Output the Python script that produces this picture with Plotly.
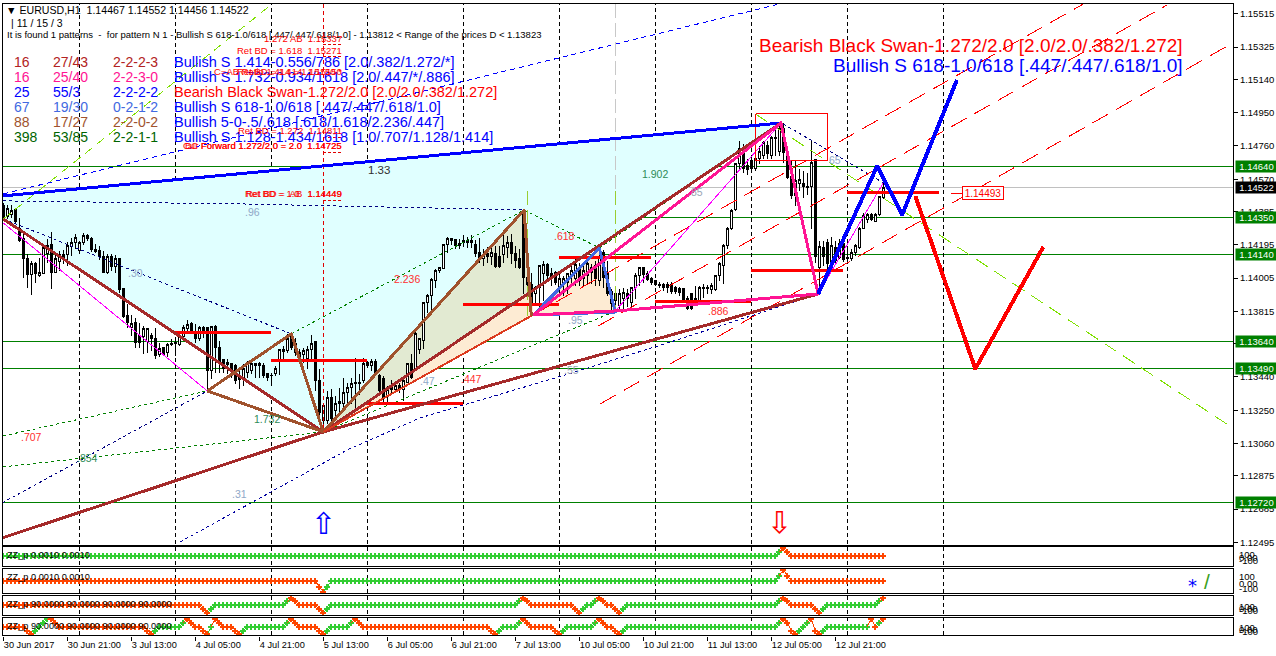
import plotly.graph_objects as go

# ---------- candles: prices in points (1 point = 0.00001) ----------
opens = [114417,114354,114371,114394,114291,114229,114114,114023,114091,114017,
114029,114143,114194,114034,114097,114137,114137,114183,114206,114160,
114206,114246,114229,114171,114160,114131,114034,114126,114069,114114,
113943,113789,113720,113749,113674,113669,113640,113674,113657,113571,
113606,113577,113623,113634,113623,113669,113714,113743,113691,113657,
113720,113720,113474,113731,113606,113537,113509,113514,113503,113446,
113434,113463,113474,113503,113503,113503,113457,113451,113457,113537,
113594,113589,113669,113629,113531,113571,113543,113594,113640,113417,
113189,113189,113320,113246,113286,113291,113349,113377,113406,113400,
113417,113520,113503,113526,113446,113429,113331,113366,113371,113389,
113371,113406,113514,113486,113594,113646,113863,113903,113989,114051,
114057,114194,114229,114223,114189,114217,114217,114217,114194,114149,
114114,114143,114126,114143,114131,114137,114177,114211,114143,114114,
114371,114006,113971,113914,113949,114029,114080,114029,114034,113943,
113977,113977,114017,114000,114063,114000,114017,114063,114074,113989,
114149,114034,113931,113874,113846,113886,113914,113863,113949,114017,
114063,114029,114000,113989,113971,113971,113971,113971,113949,113943,
113943,113886,113914,113863,113874,113943,113949,113937,113937,114017,
114074,114189,114291,114394,114657,114743,114646,114674,114629,114686,
114703,114760,114703,114811,114731,114857,114720,114583,114474,114543,
114543,114531,114531,114680,114063,114177,114206,114091,114177,114120,
114200,114120,114114,114149,114177,114291,114337,114366,114331,114371,114467]
highs = [114434,114423,114423,114400,114349,114274,114143,114103,114097,114120,
114200,114229,114269,114149,114160,114166,114211,114234,114257,114217,
114263,114257,114240,114200,114189,114160,114143,114143,114137,114120,
113943,113857,113794,113777,113749,113731,113720,113691,113720,113634,
113611,113634,113657,113663,113703,113737,113766,113754,113743,113731,
113731,113726,113731,113737,113646,113543,113543,113520,113514,113491,
113514,113531,113526,113520,113526,113520,113463,113463,113503,113600,
113617,113686,113686,113663,113600,113606,113617,113680,113646,113486,
113291,113360,113371,113331,113377,113434,113406,113434,113549,113457,
113549,113531,113543,113543,113457,113446,113389,113423,113406,113406,
113423,113520,113571,113697,113657,113869,113914,114006,114057,114069,
114194,114240,114234,114229,114229,114251,114240,114251,114223,114234,
114171,114183,114200,114189,114189,114257,114246,114257,114189,114171,
114394,114086,114034,113960,114080,114103,114091,114063,114046,114029,
114017,114034,114091,114114,114091,114074,114114,114086,114103,114160,
114166,114103,113943,113943,113943,113949,113943,113954,114034,114069,
114069,114046,114011,113994,113983,113977,113983,113983,113960,113954,
113949,113903,113920,113960,113960,113971,113966,113977,114017,114097,
114200,114297,114400,114657,114789,114771,114686,114703,114731,114760,
114789,114789,114817,114857,114886,114891,114760,114674,114674,114629,
114617,114606,114794,114680,114217,114217,114229,114240,114217,114229,
114217,114171,114171,114200,114297,114377,114377,114377,114377,114474,114552]
lows = [114343,114343,114349,114320,114211,114006,113949,113909,113977,114011,
114029,114091,113943,114034,114046,114086,114074,114131,114171,114143,
114194,114217,114154,114149,114109,114034,114029,114046,114034,113920,
113777,113720,113674,113606,113606,113571,113577,113589,113543,113554,
113560,113554,113617,113560,113617,113657,113703,113691,113634,113646,
113663,113360,113429,113463,113463,113463,113457,113434,113400,113371,
113389,113434,113457,113434,113434,113434,113417,113389,113446,113451,
113531,113577,113594,113560,113514,113520,113486,113531,113360,113183,
113126,113171,113171,113189,113240,113246,113286,113286,113246,113337,
113406,113491,113474,113446,113331,113291,113291,113349,113360,113349,
113303,113406,113429,113474,113571,113600,113806,113806,113949,114034,
114057,114149,114194,114171,114171,114183,114177,114177,114126,114091,
114074,114091,114080,114063,114063,114091,114120,114086,114063,114057,
113914,113903,113851,113857,113829,113874,113989,113960,113966,113903,
113903,113914,113971,113960,113960,113960,113971,113971,113960,113960,
113949,113903,113817,113846,113817,113829,113840,113840,113886,113960,
113977,113989,113966,113960,113949,113931,113920,113914,113914,113903,
113863,113823,113823,113846,113863,113891,113914,113914,113931,113989,
113971,114171,114280,114389,114617,114606,114594,114606,114617,114657,
114686,114686,114686,114703,114703,114663,114571,114457,114417,114503,
114463,114480,114286,114091,113960,114074,114057,114074,114091,114114,
114097,114103,114103,114131,114171,114286,114320,114331,114326,114360,114456]
closes = [114349,114400,114389,114331,114217,114114,114023,114091,114029,114034,
114177,114189,114034,114114,114137,114120,114189,114211,114234,114206,
114246,114229,114166,114154,114131,114034,114131,114069,114114,113937,
113783,113749,113743,113634,113634,113714,113714,113657,113560,113600,
113571,113623,113629,113629,113674,113720,113737,113703,113657,113720,
113703,113474,113726,113606,113531,113491,113520,113474,113417,113423,
113491,113514,113514,113514,113514,113446,113434,113446,113491,113594,
113583,113657,113606,113577,113577,113589,113594,113629,113417,113234,
113274,113320,113200,113291,113297,113349,113377,113400,113400,113411,
113514,113503,113531,113457,113360,113314,113371,113377,113389,113371,
113417,113514,113434,113691,113657,113863,113903,113994,114051,114063,
114194,114229,114217,114189,114200,114211,114211,114211,114143,114114,
114137,114126,114149,114069,114069,114189,114211,114143,114103,114063,
114006,113971,113863,113949,114074,114080,114017,114011,113977,114000,
114000,114029,114046,114080,113989,114046,114086,114034,114000,114120,
114006,113914,113857,113914,113914,113920,113886,113949,114017,114063,
114023,113994,113977,113971,113960,113949,113949,113931,113926,113920,
113874,113829,113829,113886,113949,113949,113943,113960,114017,114086,
114189,114291,114389,114657,114743,114629,114623,114629,114686,114731,
114777,114714,114806,114800,114857,114720,114577,114474,114560,114571,
114526,114520,114663,114131,114183,114131,114086,114189,114103,114200,
114109,114114,114149,114189,114291,114360,114366,114337,114371,114469,114522]

# ---------- axes ----------
price_ticks = [1.15515,1.15325,1.15140,1.14950,1.14760,1.14570,1.14385,1.14195,1.14005,
               1.13815,1.13630,1.13440,1.13250,1.13060,1.12875,1.12685,1.12495]
time_bars = [0,16,32,48,64,80,96,112,128,144,160,176,192,208]
time_labels = ['30 Jun 2017','30 Jun 21:00','3 Jul 13:00','4 Jul 05:00','4 Jul 21:00','5 Jul 13:00',
               '6 Jul 05:00','6 Jul 21:00','7 Jul 13:00','10 Jul 05:00','10 Jul 21:00','11 Jul 13:00',
               '12 Jul 05:00','12 Jul 21:00']
grid_bars = [19,43,67,91,115,139,163,187,211,235]
green_levels = [1.14640,1.14350,1.14140,1.13640,1.13490,1.12720]
bid_level = 1.14522

# ---------- indicator panels: (value, state, count), o = falling, g = rising ----------
zz1 = [(0,'g',194),(50,'g',1),(100,'o',1),(50,'o',1),(0,'o',24)]
zz2 = [(0,'o',79),(-50,'o',1),(-100,'o',1),(-50,'g',1),(0,'g',112),(50,'g',1),(100,'o',1),(50,'o',1),(0,'o',24)]
zz3 = [(0,'o',50),(-50,'o',1),(-100,'o',1),(-50,'g',1),(0,'g',18),(50,'g',1),(100,'o',1),(50,'o',1),(0,'o',5),
       (-50,'o',1),(-100,'o',1),(-50,'g',1),(0,'g',47),(50,'g',1),(100,'o',1),(50,'o',1),(0,'o',11),(-50,'o',1),
       (-100,'o',1),(-50,'g',1),(0,'g',2),(50,'g',1),(100,'o',1),(50,'o',1),(0,'o',2),(-50,'o',1),(-100,'o',1),
       (-50,'g',1),(0,'g',38),(50,'g',1),(100,'o',1),(50,'o',1),(0,'o',6),(-50,'o',1),(-100,'o',1),(-50,'g',1),
       (0,'g',13),(50,'g',1),(100,'o',1)]
zz4 = [(0,'o',6),(-50,'o',1),(-100,'o',1),(-50,'g',1),(0,'g',1),(50,'g',1),(100,'g',1),(100,'o',1),(50,'o',1),
       (0,'o',22),(-50,'o',1),(-100,'o',1),(-50,'g',1),(0,'g',6),(50,'g',1),(100,'o',1),(50,'o',1),(0,'o',2),
       (-50,'o',1),(-100,'o',1),(0,'g',1),(100,'o',1),(50,'o',1),(0,'o',3),(-50,'o',1),(-100,'o',1),(-50,'g',1),
       (0,'g',10),(50,'g',1),(100,'o',1),(50,'o',1),(0,'o',5),(-50,'o',1),(-100,'o',1),(-50,'g',1),(0,'g',5),
       (50,'g',1),(100,'o',1),(50,'o',1),(0,'o',32),(-50,'o',1),(-100,'o',1),(-50,'g',1),(0,'g',4),(50,'g',1),
       (100,'o',1),(50,'o',1),(0,'o',6),(-50,'o',1),(-100,'o',1),(-50,'g',1),(0,'g',7),(50,'g',1),(100,'o',1),
       (50,'o',1),(0,'o',2),(-50,'o',1),(-100,'o',1),(-50,'g',1),(0,'g',38),(50,'g',1),(100,'o',1),(50,'o',1),
       (-50,'o',1),(-100,'o',1),(-50,'g',1),(0,'g',1),(50,'g',1),(100,'o',1),(-50,'o',1),(-100,'o',1),(-50,'g',1),
       (0,'g',11),(100,'o',1),(0,'o',1),(50,'g',1),(100,'o',1)]

# ---------- pattern geometry: bars and prices in points ----------
fill_xab_bars = [-0.3,194.4,80,-0.3];    fill_xab_pts = [114474,114891,113126,114343]
fill_olive_bars = [80,130.2,132];        fill_olive_pts = [113126,114394,113926]
fill_peach_bars = [80,132,132.5];        fill_peach_pts = [113126,113926,113789]
fill_peach2_bars = [132.5,149,153];      fill_peach2_pts = [113794,114177,113811]

thick_lines = [
 ([-0.3,194.4],[114474,114891],'#0000FF',3),
 ([0,80,194.4],[114343,113126,114891],'#A52A2A',3),
 ([-0.3,80,203.7],[112520,113126,113914],'#A52A2A',3),
 ([51,72,80,51],[113360,113686,113126,113360],'#A0522D',3),
 ([80,130.2,132],[113126,114394,113789],'#A0522D',3),
 ([80,132],[113126,113789],'#DC3A1E',2),
 ([132.5,149,153,132.5],[113794,114177,113811,113794],'#4169E1',3),
 ([132.5,194.4,203.7,153,132.5],[113794,114891,113914,113817,113794],'#FF1493',3),
 ([203.7,218.5,224.7,238.4],[113914,114646,114366,115137],'#0000FF',4),
 ([228,243,260],[114474,113486,114183],'#FF0000',4),
]
thin_lines = [
 ([0,51],[114320,113360],'#FF00FF'),
 ([153,194.4],[113817,114891],'#FF00FF'),
 ([203.7,220],[113914,114549],'#FF00FF'),
]
dashed_lines = [
 ([0,194],[114486,115571],'#0000FF','5px,4px'),
 ([0,72],[114343,113686],'#000080','3px,3px'),
 ([0,58.7,130.2],[114446,114429,114394],'#000080','3px,3px'),
 ([-0.3,51],[112720,113360],'#000080','3px,3px'),
 ([44.2,86,104.2,142.2,170,203.7],[112497,113023,113206,113463,113663,113914],'#0000A0','3px,3px'),
 ([195,220],[114886,114549],'#000080','3px,3px'),
 ([0,51],[113103,113360],'#008000','3px,3px'),
 ([0,80],[112926,113126],'#008000','3px,3px'),
 ([72,130.2],[113686,114394],'#008000','3px,3px'),
 ([130.2,149],[114394,114177],'#008000','3px,3px'),
 ([149,194.4],[114177,114891],'#008000','3px,3px'),
 ([80,153.2],[113126,113817],'#008000','3px,3px'),
 ([153,203.7],[113817,113914],'#008000','3px,3px'),
 ([0,67.2],[114343,115571],'#7FE000','9px,6px'),
 ([188,306.2],[114943,113166],'#7FE000','14px,8px'),
 ([149.2,307.4],[113286,115349],'#FF0000','18px,9px'),
 ([148.7,291],[113731,115566],'#FF0000','18px,9px'),
 ([132.4,270],[113794,115571],'#FF0000','18px,9px'),
 ([80,80],[115571,113126],'#E00000','4px,3px'),
 ([131,131],[114503,113789],'#9ACD32','14px,5px'),
 ([153,153],[114503,113811],'#9ACD32','14px,5px'),
 ([153,153],[115571,114503],'#C8C8C8','14px,5px'),
 ([237,244],[114491,114491],'#FF0000',None),
]
level_bars = [[43,67],[67,91],[91,115],[115,139],[139,162],[163,187],[187,210],[211,234]]
level_pts = [113692,113533,113291,113853,114122,113869,114051,114493]
box_bars = [188.1,206.1,206.1,188.1,188.1]; box_pts = [114943,114943,114674,114674,114943]

ret_labels = ['1.272 AB  1.15337','Ret BD = 1.618  1.15271','Ret BD = 1.414  1.15150','C=AB Ratio 1.414 = 1.15150 *',
              'Ret BD = 1.272  1.14811','BC Forward 1.272/2.0 = 2.0  1.14725','Cur Forward 1.272/2.0 = 2.0  1.14725',
              'Ret BD =  AB  1.14449','Ret BD = 1.0   1.14449']
ret_pts = [115337,115271,115150,115150,114811,114725,114725,114449,114449]

ratio_text = ['1.33','.96','.30','2.236','.618','1.902','.85','.95','.886','.447','.47','1.732','.707','.854','.31','.55','65']
ratio_bar = [94,62.2,33,101,140.4,163,173,143,178.7,117,106,66,7,21,59,142,208]
ratio_pts = [114623,114383,114034,114000,114246,114600,114497,113766,113817,113429,113417,113200,113097,112977,112772,113480,114680]
ratio_col = ['#303030','#8FA8C8','#8FA8C8','#FF3030','#FF3030','#2E8B57','#9AA5B5','#8FA8C8','#FF3030','#FF3030','#8FA8C8',
             '#2E8B57','#FF3030','#2E8B57','#8FA8C8','#9AA5B5','#8FA8C8']
ratio_size = [11.5] + [10.5] * 16

table_a = ['16','16','25','67','88','398']
table_b = ['27/43','25/40','55/3','19/30','17/27','53/85']
table_c = ['2-2-2-3','2-2-3-0','2-2-2-2','0-2-1-2','2-2-0-2','2-2-1-1']
table_d = ['Bullish S 1.414-0.556/786 [2.0/.382/1.272/*]','Bullish S 1.732-0.934/1618 [2.0/.447/*/.886]',
           'Bearish Black Swan-1.272/2.0 [2.0/2.0/.382/1.272]','Bullish S 618-1.0/618 [.447/.447/.618/1.0]',
           'Bullish 5-0-.5/.618 [.618/1.618/2.236/.447]','Bullish S 1.128-1.434/1618 [1.0/.707/1.128/1.414]']
table_col = ['#B22222','#FF1493','#0000FF','#4169E1','#A0522D','#006400']
table_dcol = ['#0000FF','#0000FF','#FF0000','#0000FF','#0000FF','#0000FF']

W, H = 1276, 656
FONT = 'Liberation Sans'
px = lambda x: x / W
py = lambda y: 1 - y / H
P = lambda seq: [v / 100000 for v in seq]
nb = len(opens)
bars = list(range(nb))

fig = go.Figure()
fig.add_trace(go.Candlestick(x=bars, open=P(opens), high=P(highs), low=P(lows), close=P(closes),
    increasing=dict(line=dict(color='black', width=1), fillcolor='white'),
    decreasing=dict(line=dict(color='black', width=1), fillcolor='black'),
    whiskerwidth=0, hoverinfo='skip', showlegend=False))

def line(xs, ys, color, width=1, dash=None, axis='y'):
    fig.add_trace(go.Scatter(x=xs, y=ys, mode='lines', yaxis=axis, hoverinfo='skip', showlegend=False,
                             line=dict(color=color, width=width, dash=dash)))

for xs, ys, c, d in dashed_lines:
    line(xs, P(ys), c, 1, d)
for xs, ys, c in thin_lines:
    line(xs, P(ys), c, 1)
for xs, p in zip(level_bars, level_pts):
    line(xs, P([p, p]), '#FF0000', 3)
line(box_bars, P(box_pts), '#FF0000', 1)
for p in ret_pts[:2] + ret_pts[4:5] + ret_pts[5:6] + ret_pts[7:8]:
    line([80, 85], P([p, p]), '#E00000', 1, '3px,2px')
for xs, ys, c, w in thick_lines:
    line(xs, P(ys), c, w)

# indicator panels
ORANGE, GREEN = '#FF4500', '#32CD32'
for axis, runs in zip(['y2', 'y3', 'y4', 'y5'], [zz1, zz2, zz3, zz4]):
    vals, states = [], []
    for v, s, n in runs:
        vals += [v] * n
        states += [s] * n
    for key, col in (('g', GREEN), ('o', ORANGE)):
        lx, ly, mx, my = [], [], [], []
        for i, (v, s) in enumerate(zip(vals, states)):
            if s != key:
                continue
            mx.append(i); my.append(v)
            if i:
                lx += [i - 1, i, None]; ly += [vals[i - 1], v, None]
        line(lx, ly, col, 1, None, axis)
        fig.add_trace(go.Scatter(x=mx, y=my, mode='markers', yaxis=axis, hoverinfo='skip', showlegend=False,
                                 marker=dict(symbol='cross', size=5, color=col, line=dict(width=0))))

# fills and lines beneath the candles
def poly(xs, ys, color):
    path = 'M ' + ' L '.join(f'{x},{y/100000}' for x, y in zip(xs, ys)) + ' Z'
    return dict(type='path', path=path, xref='x', yref='y', fillcolor=color, line=dict(width=0), layer='below')

shapes = [poly(fill_xab_bars, fill_xab_pts, '#E0FFFF'),
          poly(fill_olive_bars, fill_olive_pts, '#E2EAD2'),
          poly(fill_peach_bars, fill_peach_pts, '#FDEBD3'),
          poly(fill_peach2_bars, fill_peach2_pts, '#FDEBD3')]
for lv in green_levels:
    shapes.append(dict(type='line', xref='paper', yref='y', x0=px(2), x1=px(1233), y0=lv, y1=lv,
                       line=dict(color='#008000', width=1), layer='below'))
shapes.append(dict(type='line', xref='paper', yref='y', x0=px(2), x1=px(1233), y0=bid_level, y1=bid_level,
                   line=dict(color='#C0C0C0', width=1), layer='below'))
for b in grid_bars:
    shapes.append(dict(type='line', xref='x', yref='paper', x0=b, x1=b, y0=py(635), y1=py(3),
                       line=dict(color='black', width=1, dash='4px,3px'), layer='below'))
for top, bottom in [(3, 545), (546, 566), (568, 593), (595, 615), (617, 635)]:
    shapes.append(dict(type='rect', xref='paper', yref='paper', x0=px(2), x1=px(1233), y0=py(bottom), y1=py(top),
                       line=dict(color='black', width=1), layer='above'))

ann = []
def text(x, y, s, size=10, color='black', xanchor='left', yanchor='middle', family=FONT, **kw):
    ann.append(dict(x=px(x), y=py(y), xref='paper', yref='paper', text=s, showarrow=False, xanchor=xanchor,
                    yanchor=yanchor, font=dict(family=family, size=size, color=color), borderpad=0, borderwidth=0, **kw))

text(6, 10, '▼ EURUSD,H1  1.14467 1.14552 1.14456 1.14522', 10.6)
text(11, 23, '| 11 / 15 / 3', 10.5)
text(7, 35, 'It is found 1 patterns  -  for pattern N 1 - Bullish S 618-1.0/618 [.447/.447/.618/1.0] - 1.13812 &lt; Range of the prices D &lt; 1.13823', 9.5)
for k, y in enumerate([62, 77, 92, 107, 122, 137]):
    text(14, y, table_a[k], 14, table_col[k])
    text(53, y, table_b[k], 14, table_col[k])
    text(113, y, table_c[k], 14, table_col[k])
    text(174, y, table_d[k], 14.5, table_dcol[k])
text(1183, 45, 'Bearish Black Swan-1.272/2.0 [2.0/2.0/.382/1.272]', 19, '#FF0000', xanchor='right')
text(1183, 65, 'Bullish S 618-1.0/618 [.447/.447/.618/1.0]', 19, '#0000FF', xanchor='right')

for s, p in zip(ret_labels, ret_pts):
    ann.append(dict(x=85, y=p / 100000, xref='x', yref='y', text=s, showarrow=False, xanchor='right', yanchor='bottom',
                    font=dict(family=FONT, size=9.5, color='#FF0000'), borderpad=0))
for s, b, p, c, z in zip(ratio_text, ratio_bar, ratio_pts, ratio_col, ratio_size):
    ann.append(dict(x=b, y=p / 100000, xref='x', yref='y', text=s, showarrow=False,
                    font=dict(family=FONT, size=z, color=c), borderpad=0))
ann.append(dict(x=80, y=1.12600, xref='x', yref='y', text='⇧', showarrow=False,
                font=dict(family='DejaVu Sans', size=30, color='#0000FF')))
ann.append(dict(x=194, y=1.12611, xref='x', yref='y', text='⇩', showarrow=False,
                font=dict(family='DejaVu Sans', size=30, color='#FF0000')))
ann.append(dict(x=245, y=1.14491, xref='x', yref='y', text='1.14493', showarrow=False, bgcolor='white',
                bordercolor='#FF0000', borderwidth=1, borderpad=1, width=38, height=10,
                font=dict(family=FONT, size=10, color='#FF0000')))

for lv in green_levels + [bid_level]:
    bg = '#000000' if lv == bid_level else '#008000'
    ann.append(dict(x=px(1235), y=lv, xref='paper', yref='y', text=f'{lv:.5f}', showarrow=False, xanchor='left', bgcolor=bg,
                    width=41, height=11, borderpad=0, font=dict(family=FONT, size=9.5, color='white')))

text(7, 555, 'ZZ_p 0.0010 0.0010', 9.2)
text(7, 577, 'ZZ_p 0.0010 0.0010', 9.2)
text(7, 604, 'ZZ_p 90.0000 90.0000 90.0000 90.0000', 9.2)
text(7, 626, 'ZZ_p 90.0000 90.0000 90.0000 90.0000', 9.2)
for ys in [(554, 557, 560), (576, 583, 588), (606, 608, 610), (627, 629, 631)]:
    for y, s in zip(ys, ['100', '0.00', '-100']):
        text(1239, y, s, 9.5)
text(1192, 585, '*', 18, '#0000FF', xanchor='center', family='DejaVu Sans')
text(1207, 581, '/', 21, '#3AA020', xanchor='center')

layout_axes = dict(
    xaxis=dict(domain=[px(2), px(1233)], range=[-0.325, 307.425], anchor='y5', tickmode='array', tickvals=time_bars,
               ticktext=time_labels, ticks='outside', ticklen=4, tickcolor='black', ticklabelposition='outside right',
               tickangle=0, automargin=False,
               tickfont=dict(family=FONT, size=9.2, color='black'), showgrid=False, zeroline=False,
               rangeslider=dict(visible=False), showline=False),
    yaxis=dict(domain=[py(546), py(4)], range=[1.12474, 1.15571], side='right', anchor='x', tickmode='array',
               automargin=False,
               tickvals=price_ticks, ticktext=[f'{v:.5f}' for v in price_ticks], ticks='outside', ticklen=4,
               tickcolor='black', tickfont=dict(family=FONT, size=9.5, color='black'), showgrid=False, zeroline=False),
)
for name, top, bottom, r in [('yaxis2', 547, 567, [-129, 112]), ('yaxis3', 569, 594, [-118, 109]),
                             ('yaxis4', 596, 616, [-141, 122]), ('yaxis5', 618, 636, [-121, 113])]:
    layout_axes[name] = dict(domain=[py(bottom), py(top)], range=r, side='right', anchor='x', showticklabels=False,
                             automargin=False, ticks='', showgrid=False, zeroline=False)

fig.update_layout(width=W, height=H, margin=dict(l=0, r=0, t=0, b=0, autoexpand=False), autosize=False, paper_bgcolor='white',
                  plot_bgcolor='white', showlegend=False, shapes=shapes, annotations=ann, **layout_axes)

fig.write_html('out.html', config={'displayModeBar': False},
               post_script="document.body.style.margin='0';document.body.style.overflow='hidden';"
                           "var s=document.createElement('style');s.innerHTML='.main-svg path{shape-rendering:crispEdges}';document.head.appendChild(s);")
